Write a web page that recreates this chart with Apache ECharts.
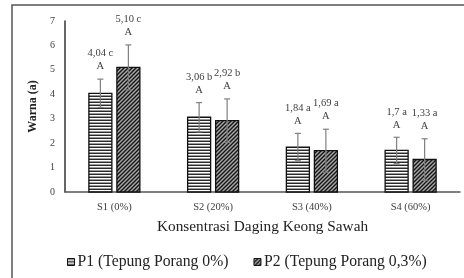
<!DOCTYPE html>
<html><head><meta charset="utf-8">
<script src="https://cdn.jsdelivr.net/npm/echarts@6/dist/echarts.min.js"></script>
<style>html,body{margin:0;padding:0;background:#fff}#c{width:464px;height:278px}</style>
</head><body><div id="c"></div>
<script>
var categories = ['S1 (0%)', 'S2 (20%)', 'S3 (40%)', 'S4 (60%)'];
var p1Values = [4.04, 3.06, 1.84, 1.7];
var p1Errors = [0.58, 0.6, 0.56, 0.54];
var p1Labels = ['4,04 c\nA', '3,06 b\nA', '1,84 a\nA', '1,7 a\nA'];
var p2Values = [5.10, 2.92, 1.69, 1.33];
var p2Errors = [0.92, 0.89, 0.88, 0.85];
var p2Labels = ['5,10 c\nA', '2,92 b\nA', '1,69 a\nA', '1,33 a\nA'];
var yTicks = [0, 1, 2, 3, 4, 5, 6, 7];
var seriesNames = ['P1 (Tepung Porang 0%)', 'P2 (Tepung Porang 0,3%)'];

function makeP1() {
  var c = document.createElement('canvas'); c.width = 4; c.height = 3;
  var g = c.getContext('2d');
  g.fillStyle = '#ffffff'; g.fillRect(0, 0, 4, 3);
  g.fillStyle = '#2a2a2a'; g.fillRect(0, 0, 4, 1);
  g.fillStyle = '#9a9a9a'; g.fillRect(0, 2, 4, 1);
  return c;
}
function makeP2() {
  var c = document.createElement('canvas'); c.width = 4; c.height = 4;
  var g = c.getContext('2d');
  g.fillStyle = '#a8a8a8'; g.fillRect(0, 0, 4, 4);
  g.strokeStyle = '#141414'; g.lineWidth = 1.4;
  g.beginPath();
  g.moveTo(-1, 5); g.lineTo(5, -1);
  g.moveTo(-1, 1); g.lineTo(1, -1);
  g.moveTo(3, 5); g.lineTo(5, 3);
  g.stroke();
  return c;
}
var pat1 = { image: makeP1(), repeat: 'repeat' };
var pat2 = { image: makeP2(), repeat: 'repeat' };

var BAR_W = 23, GAP = 5;
var FONT = '"Liberation Serif", "Times New Roman", serif';

function makeRender(idx, values, errors, labels, pattern) {
  return function (params, api) {
    var ci = api.value(0);
    var v = api.value(1);
    var e = api.value(2);
    var base = api.coord([ci, 0]);
    var top = api.coord([ci, v]);
    var cx = base[0] + (idx === 0 ? -1 : 1) * (BAR_W + GAP) / 2;
    var eTop = api.coord([ci, v + e])[1];
    var eBot = api.coord([ci, v - e])[1];
    var cap = 3;
    return {
      type: 'group',
      children: [
        { type: 'rect', shape: { x: cx - BAR_W / 2, y: top[1], width: BAR_W, height: base[1] - top[1] },
          style: { fill: pattern, stroke: '#111', lineWidth: 1.3 } },
        { type: 'line', shape: { x1: cx, y1: eTop, x2: cx, y2: eBot }, style: { stroke: '#7f7f7f', lineWidth: 1.2 } },
        { type: 'line', shape: { x1: cx - cap, y1: eTop, x2: cx + cap, y2: eTop }, style: { stroke: '#7f7f7f', lineWidth: 1.2 } },
        { type: 'line', shape: { x1: cx - cap, y1: eBot, x2: cx + cap, y2: eBot }, style: { stroke: '#7f7f7f', lineWidth: 1.2 } },
        { type: 'text', x: cx, y: eTop - 6,
          style: { text: labels[params.dataIndex], fill: '#404040', font: '10.5px ' + FONT,
                   align: 'center', verticalAlign: 'bottom', lineHeight: 13 } }
      ]
    };
  };
}
function buildData(values, errors) {
  return values.map(function (v, i) { return [i, v, errors[i]]; });
}

var chart = echarts.init(document.getElementById('c'), null, { renderer: 'canvas' });
chart.setOption({
  animation: false,
  backgroundColor: '#ffffff',
  textStyle: { fontFamily: FONT },
  graphic: [{ type: 'rect', shape: { x: 12, y: 5, width: 470, height: 300 },
              style: { fill: 'none', stroke: '#555', lineWidth: 1.5 }, silent: true }],
  grid: { left: 65, right: 4, top: 21, bottom: 86 },
  legend: {
    bottom: 3, left: 62, itemGap: 25, itemWidth: 7, itemHeight: 7, icon: 'rect',
    textStyle: { fontFamily: FONT, fontSize: 15.7, color: '#222', padding: [0, 0, 0, -2] },
    data: [
      { name: seriesNames[0], itemStyle: { color: pat1, borderColor: '#111', borderWidth: 1 } },
      { name: seriesNames[1], itemStyle: { color: pat2, borderColor: '#111', borderWidth: 1 } }
    ]
  },
  xAxis: {
    type: 'category', data: categories,
    name: 'Konsentrasi Daging Keong Sawah', nameLocation: 'middle', nameGap: 27,
    nameTextStyle: { fontFamily: FONT, fontSize: 15.3, color: '#222' },
    axisLine: { lineStyle: { color: '#555', width: 1.5 } },
    axisTick: { show: false },
    axisLabel: { fontFamily: FONT, fontSize: 10.5, color: '#404040', margin: 10 }
  },
  yAxis: {
    type: 'value', min: yTicks[0], max: yTicks[yTicks.length - 1], interval: 1,
    name: 'Warna (a)', nameLocation: 'middle', nameGap: 19,
    nameTextStyle: { fontFamily: FONT, fontSize: 12, fontWeight: 'bold', color: '#222' },
    axisLine: { show: true, lineStyle: { color: '#333', width: 1.5 } },
    axisTick: { show: false },
    splitLine: { show: false },
    axisLabel: { fontFamily: FONT, fontSize: 10, color: '#404040', margin: 10 }
  },
  series: [
    { name: seriesNames[0], type: 'custom', itemStyle: { color: pat1, borderColor: '#111', borderWidth: 1 },
      renderItem: makeRender(0, p1Values, p1Errors, p1Labels, pat1), encode: { x: 0, y: 1 },
      data: buildData(p1Values, p1Errors) },
    { name: seriesNames[1], type: 'custom', itemStyle: { color: pat2, borderColor: '#111', borderWidth: 1 },
      renderItem: makeRender(1, p2Values, p2Errors, p2Labels, pat2), encode: { x: 0, y: 1 },
      data: buildData(p2Values, p2Errors) }
  ]
});
</script></body></html>
